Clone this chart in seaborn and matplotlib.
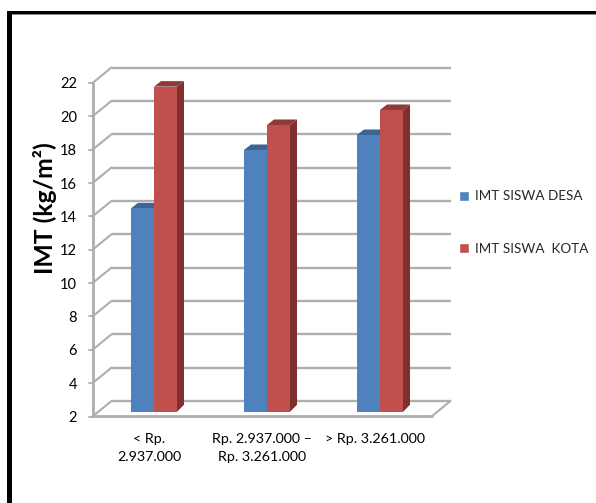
import matplotlib
matplotlib.use("Agg")
import matplotlib.pyplot as plt
import pandas as pd
import seaborn as sns
from matplotlib.patches import Polygon, Rectangle
from matplotlib.transforms import Affine2D

categories = ["< Rp.\n2.937.000", "Rp. 2.937.000 –\nRp. 3.261.000", "> Rp. 3.261.000"]
desa = [14.2, 17.7, 18.6]
kota = [21.5, 19.2, 20.1]
series_names = ["IMT SISWA DESA", "IMT SISWA  KOTA"]
y_ticks = [2, 4, 6, 8, 10, 12, 14, 16, 18, 20, 22]

W, H = 596, 503
BLUE, BLUE_TOP, BLUE_SIDE = "#4f81bd", "#3c6494", "#35587f"
RED, RED_TOP, RED_SIDE = "#c0504d", "#8e3a38", "#7f302e"
GRID = "#aeaeae"

sns.set_theme(style="white")
plt.rcParams["font.family"] = ["Lato", "DejaVu Sans"]

df = pd.DataFrame({
    "cat": categories * 2,
    "val": desa + kota,
    "series": [series_names[0]] * 3 + [series_names[1]] * 3,
})

fig = plt.figure(figsize=(W / 100, H / 100), dpi=100)
ax = fig.add_axes([92.5 / W, 1 - 416.5 / H, 339 / W, 333.5 / H])

sns.barplot(data=df, x="cat", y="val", hue="series", palette=[BLUE, RED],
            width=0.407, gap=0, saturation=1, errorbar=None, legend=False,
            ax=ax, zorder=5)
ax.set_xlim(-0.5, 2.5)
ax.set_ylim(2, 22)
ax.patch.set_alpha(0)
for s in ax.spines.values():
    s.set_visible(False)

# Pixel offsets that fake the depth of the 3-D box
BACK_X, BACK_Y = 19, 15.5
BAR_X, BAR_Y = 5, 4.7
DEPTH = 7


def offset(dx, dy):
    return ax.transData + Affine2D().translate(dx, dy)


def screen_line(xs, ys, lw=1.5):
    ax.add_line(plt.Line2D(xs, ys, color=GRID, lw=lw, transform=None, zorder=1, clip_on=False))


# Walls: gridlines on the back plane with diagonals down to the front axis
for t in y_ticks:
    ax.plot([-0.5, 2.5], [t, t], color=GRID, lw=1.7, transform=offset(BACK_X, BACK_Y),
            clip_on=False, zorder=1, solid_capstyle="butt")
    p0 = ax.transData.transform((-0.5, t))
    screen_line([p0[0], p0[0] + BACK_X], [p0[1], p0[1] + BACK_Y])
    screen_line([p0[0] - 4, p0[0]], [p0[1], p0[1]], lw=1.3)

# Floor outline and front axis
ax.plot([-0.5, -0.5], [2, 22], color=GRID, lw=2, clip_on=False, zorder=2)
ax.plot([-0.5, 2.5], [2, 2], color=GRID, lw=2, clip_on=False, zorder=2)
pr = ax.transData.transform((2.5, 2))
screen_line([pr[0], pr[0] + BACK_X], [pr[1], pr[1] + BACK_Y])

# Extruded sides and tops are derived from each bar's own rectangle
styles = [(BLUE, BLUE_SIDE, BLUE_TOP)] * 3 + [(RED, RED_SIDE, RED_TOP)] * 3
for bar, (face, side, top) in zip(list(ax.patches), styles):
    x0, x1 = bar.get_x(), bar.get_x() + bar.get_width()
    val = bar.get_y() + bar.get_height()
    (a, b), (c, d) = ax.transData.transform([(x0, 2), (x1, val)])
    a += BAR_X
    c += BAR_X
    b += BAR_Y
    d += BAR_Y
    bar.set_visible(False)
    ax.add_patch(Polygon([(c, b), (c + DEPTH, b + DEPTH), (c + DEPTH, d + DEPTH - 1.5), (c, d)],
                         closed=True, fc=side, ec="none", transform=None, zorder=5, clip_on=False))
    ax.add_patch(Polygon([(a, d), (a + DEPTH, d + DEPTH - 1.5), (c + DEPTH, d + DEPTH - 1.5), (c, d)],
                         closed=True, fc=top, ec="none", transform=None, zorder=5, clip_on=False))
    ax.add_patch(Rectangle((a, b), c - a, d - b, fc=face, ec="none", transform=None,
                           zorder=6, clip_on=False))

ax.set_yticks(y_ticks)
ax.set_yticklabels([str(t) for t in y_ticks])
ax.tick_params(axis="y", length=0, pad=11, labelsize=10.5, colors="black")
ax.tick_params(axis="x", length=0, pad=12, labelsize=10.3, colors="black")
for lab in ax.get_xticklabels():
    lab.set_linespacing(1.6)
ax.set_xlabel("")
ax.set_ylabel("IMT (kg/m²)", fontsize=17.8, fontweight="bold", color="black")
ax.yaxis.set_label_coords(-35 / 339, (416.5 - 208.5) / 333.5)

# Legend entries
handles = [plt.Rectangle((0, 0), 1, 1, fc=BLUE), plt.Rectangle((0, 0), 1, 1, fc=RED)]
fig.legend(handles, series_names, loc="center left", bbox_to_anchor=(452 / W, 1 - 222.5 / H),
           frameon=False, fontsize=9.7, labelspacing=3.0, handlelength=0.75, handleheight=0.75,
           handletextpad=0.45, borderpad=0)

# Frame: heavy rule along the left and top edges
fig.add_artist(Rectangle((7 / W, 0), 5 / W, 1 - 11 / H, fc="black", ec="none",
                         transform=fig.transFigure))
fig.add_artist(Rectangle((7 / W, 1 - 14 / H), 1 - 7 / W, 3 / H, fc="black", ec="none",
                         transform=fig.transFigure))
fig.add_artist(Rectangle((12 / W, 1 - 15 / H), 1 - 12 / W, 1 / H, fc="#888888", ec="none",
                         transform=fig.transFigure))

fig.savefig("out.png", dpi=100)
